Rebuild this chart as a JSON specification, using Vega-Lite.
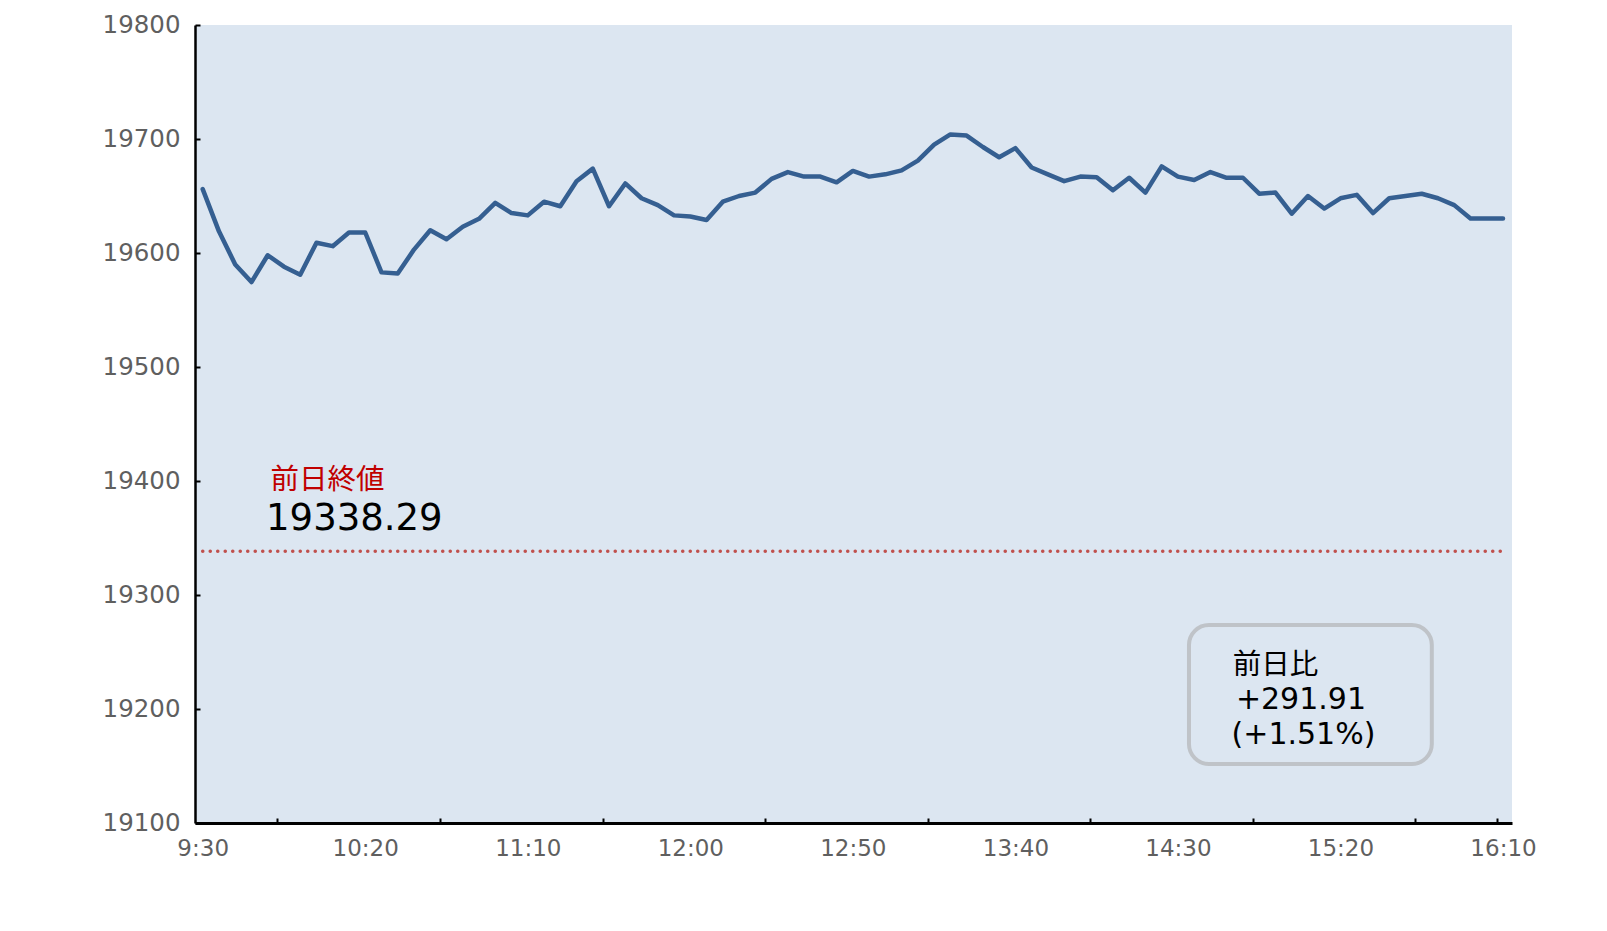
{
  "$schema": "https://vega.github.io/schema/vega-lite/v6.json",
  "width": 1317,
  "height": 798,
  "autosize": {"type": "none"},
  "padding": {"left": 195, "top": 25, "right": 95, "bottom": 108},
  "background": "#ffffff",
  "config": {"view": {"fill": "#dce6f1", "stroke": null}, "font": "DejaVu Sans"},
  "layer": [
    {
      "data": {"values": [{}]},
      "mark": {"type": "rect", "cornerRadius": 20, "fill": "#dce6f1", "stroke": "#bfc3c8", "strokeWidth": 4},
      "encoding": {
        "x": {"datum": {"year": 1900, "month": 1, "date": 1, "hours": 14, "minutes": 33, "seconds": 24}, "type": "temporal"},
        "x2": {"datum": {"year": 1900, "month": 1, "date": 1, "hours": 15, "minutes": 48, "seconds": 6}},
        "y": {"datum": 19273.7, "type": "quantitative"},
        "y2": {"datum": 19151.8}
      }
    },
    {
      "data": {"values": [{}]},
      "mark": {"type": "rule", "color": "#c0504d", "strokeWidth": 3.5, "strokeDash": [0.1, 7.4], "strokeCap": "round"},
      "encoding": {
        "x": {"datum": {"year": 1900, "month": 1, "date": 1, "hours": 9, "minutes": 30}, "type": "temporal"},
        "x2": {"datum": {"year": 1900, "month": 1, "date": 1, "hours": 16, "minutes": 10}},
        "y": {"datum": 19338.29, "type": "quantitative"}
      }
    },
    {
      "data": {
        "values": [
          {"time": "09:30", "value": 19656}, {"time": "09:35", "value": 19619}, {"time": "09:40", "value": 19590},
          {"time": "09:45", "value": 19574.5}, {"time": "09:50", "value": 19598}, {"time": "09:55", "value": 19588},
          {"time": "10:00", "value": 19581}, {"time": "10:05", "value": 19609}, {"time": "10:10", "value": 19606},
          {"time": "10:15", "value": 19618}, {"time": "10:20", "value": 19618}, {"time": "10:25", "value": 19583},
          {"time": "10:30", "value": 19582}, {"time": "10:35", "value": 19603}, {"time": "10:40", "value": 19620},
          {"time": "10:45", "value": 19612}, {"time": "10:50", "value": 19623}, {"time": "10:55", "value": 19630},
          {"time": "11:00", "value": 19644}, {"time": "11:05", "value": 19635}, {"time": "11:10", "value": 19633},
          {"time": "11:15", "value": 19645}, {"time": "11:20", "value": 19641}, {"time": "11:25", "value": 19663},
          {"time": "11:30", "value": 19674}, {"time": "11:35", "value": 19641}, {"time": "11:40", "value": 19661},
          {"time": "11:45", "value": 19648}, {"time": "11:50", "value": 19642}, {"time": "11:55", "value": 19633},
          {"time": "12:00", "value": 19632}, {"time": "12:05", "value": 19629}, {"time": "12:10", "value": 19645},
          {"time": "12:15", "value": 19650}, {"time": "12:20", "value": 19653}, {"time": "12:25", "value": 19665},
          {"time": "12:30", "value": 19671}, {"time": "12:35", "value": 19667}, {"time": "12:40", "value": 19667},
          {"time": "12:45", "value": 19662}, {"time": "12:50", "value": 19672}, {"time": "12:55", "value": 19667},
          {"time": "13:00", "value": 19669}, {"time": "13:05", "value": 19672.5}, {"time": "13:10", "value": 19681},
          {"time": "13:15", "value": 19695}, {"time": "13:20", "value": 19704}, {"time": "13:25", "value": 19703},
          {"time": "13:30", "value": 19693}, {"time": "13:35", "value": 19684}, {"time": "13:40", "value": 19692},
          {"time": "13:45", "value": 19675}, {"time": "13:50", "value": 19669}, {"time": "13:55", "value": 19663},
          {"time": "14:00", "value": 19667}, {"time": "14:05", "value": 19666.5}, {"time": "14:10", "value": 19655},
          {"time": "14:15", "value": 19666}, {"time": "14:20", "value": 19653}, {"time": "14:25", "value": 19676},
          {"time": "14:30", "value": 19667}, {"time": "14:35", "value": 19664}, {"time": "14:40", "value": 19671},
          {"time": "14:45", "value": 19666}, {"time": "14:50", "value": 19666}, {"time": "14:55", "value": 19652},
          {"time": "15:00", "value": 19653}, {"time": "15:05", "value": 19634.5}, {"time": "15:10", "value": 19650},
          {"time": "15:15", "value": 19639}, {"time": "15:20", "value": 19648}, {"time": "15:25", "value": 19651},
          {"time": "15:30", "value": 19635}, {"time": "15:35", "value": 19648}, {"time": "15:40", "value": 19650},
          {"time": "15:45", "value": 19652}, {"time": "15:50", "value": 19648}, {"time": "15:55", "value": 19642},
          {"time": "16:00", "value": 19630.2}, {"time": "16:05", "value": 19630.2}, {"time": "16:10", "value": 19630.2}
        ],
        "format": {"parse": {"time": "date:'%H:%M'"}}
      },
      "mark": {"type": "line", "color": "#355f91", "strokeWidth": 4.5, "strokeJoin": "round", "strokeCap": "round"},
      "encoding": {
        "x": {
          "field": "time",
          "type": "temporal",
          "scale": {"domain": [
            {"year": 1900, "month": 1, "date": 1, "hours": 9, "minutes": 27, "seconds": 38},
            {"year": 1900, "month": 1, "date": 1, "hours": 16, "minutes": 12, "seconds": 46}
          ]},
          "axis": {
            "title": null,
            "values": [
              {"year": 1900, "month": 1, "date": 1, "hours": 9, "minutes": 30},
              {"year": 1900, "month": 1, "date": 1, "hours": 9, "minutes": 53},
              {"year": 1900, "month": 1, "date": 1, "hours": 10, "minutes": 20},
              {"year": 1900, "month": 1, "date": 1, "hours": 10, "minutes": 43},
              {"year": 1900, "month": 1, "date": 1, "hours": 11, "minutes": 10},
              {"year": 1900, "month": 1, "date": 1, "hours": 11, "minutes": 33},
              {"year": 1900, "month": 1, "date": 1, "hours": 12, "minutes": 0},
              {"year": 1900, "month": 1, "date": 1, "hours": 12, "minutes": 23},
              {"year": 1900, "month": 1, "date": 1, "hours": 12, "minutes": 50},
              {"year": 1900, "month": 1, "date": 1, "hours": 13, "minutes": 13},
              {"year": 1900, "month": 1, "date": 1, "hours": 13, "minutes": 40},
              {"year": 1900, "month": 1, "date": 1, "hours": 14, "minutes": 3},
              {"year": 1900, "month": 1, "date": 1, "hours": 14, "minutes": 30},
              {"year": 1900, "month": 1, "date": 1, "hours": 14, "minutes": 53},
              {"year": 1900, "month": 1, "date": 1, "hours": 15, "minutes": 20},
              {"year": 1900, "month": 1, "date": 1, "hours": 15, "minutes": 43},
              {"year": 1900, "month": 1, "date": 1, "hours": 16, "minutes": 8},
              {"year": 1900, "month": 1, "date": 1, "hours": 16, "minutes": 10}
            ],
            "labelExpr": "minutes(datum.value) % 10 === 0 ? timeFormat(datum.value, '%-H:%M') : ''",
            "tickOpacity": {"condition": {"test": "minutes(datum.value) % 10 === 0", "value": 0}, "value": 1},
            "tickSize": -5,
            "tickWidth": 2,
            "tickColor": "#000000",
            "domainColor": "#000000",
            "domainWidth": 3,
            "grid": false,
            "labelOverlap": false,
            "labelBound": false,
            "labelFlush": false,
            "labelFont": "DejaVu Sans",
            "labelFontSize": 23,
            "labelColor": "#5f5f5f",
            "labelPadding": 19
          }
        },
        "y": {
          "field": "value",
          "type": "quantitative",
          "scale": {"domain": [19100, 19800], "zero": false, "nice": false},
          "axis": {
            "title": null,
            "values": [19100, 19200, 19300, 19400, 19500, 19600, 19700, 19800],
            "format": "d",
            "tickSize": -5,
            "tickWidth": 2,
            "tickColor": "#000000",
            "domainColor": "#000000",
            "domainWidth": 2.5,
            "gridColor": "#d9d9d9",
            "gridWidth": 2,
            "labelFont": "DejaVu Sans",
            "labelFontSize": 24.5,
            "labelColor": "#5f5f5f",
            "labelPadding": 20
          }
        }
      }
    },
    {
      "data": {"values": [{}]},
      "mark": {"type": "text", "text": "前日終値", "font": "Noto Sans CJK JP", "fontSize": 28.5, "color": "#c00000", "align": "left", "baseline": "middle"},
      "encoding": {
        "x": {"datum": {"year": 1900, "month": 1, "date": 1, "hours": 9, "minutes": 50, "seconds": 50}, "type": "temporal"},
        "y": {"datum": 19401, "type": "quantitative"}
      }
    },
    {
      "data": {"values": [{}]},
      "mark": {"type": "text", "text": "19338.29", "font": "DejaVu Sans", "fontSize": 37, "color": "#000000", "align": "left", "baseline": "middle"},
      "encoding": {
        "x": {"datum": {"year": 1900, "month": 1, "date": 1, "hours": 9, "minutes": 49, "seconds": 30}, "type": "temporal"},
        "y": {"datum": 19366.5, "type": "quantitative"}
      }
    },
    {
      "data": {"values": [{}]},
      "mark": {"type": "text", "text": "前日比", "font": "Noto Sans CJK JP", "fontSize": 28.5, "color": "#000000", "align": "left", "baseline": "middle"},
      "encoding": {
        "x": {"datum": {"year": 1900, "month": 1, "date": 1, "hours": 14, "minutes": 46, "seconds": 50}, "type": "temporal"},
        "y": {"datum": 19239, "type": "quantitative"}
      }
    },
    {
      "data": {"values": [{}]},
      "mark": {"type": "text", "text": "+291.91", "font": "DejaVu Sans", "fontSize": 30, "color": "#000000", "align": "left", "baseline": "middle"},
      "encoding": {
        "x": {"datum": {"year": 1900, "month": 1, "date": 1, "hours": 14, "minutes": 47, "seconds": 50}, "type": "temporal"},
        "y": {"datum": 19207.5, "type": "quantitative"}
      }
    },
    {
      "data": {"values": [{}]},
      "mark": {"type": "text", "text": "(+1.51%)", "font": "DejaVu Sans", "fontSize": 30, "color": "#000000", "align": "left", "baseline": "middle"},
      "encoding": {
        "x": {"datum": {"year": 1900, "month": 1, "date": 1, "hours": 14, "minutes": 46, "seconds": 30}, "type": "temporal"},
        "y": {"datum": 19177, "type": "quantitative"}
      }
    }
  ]
}
